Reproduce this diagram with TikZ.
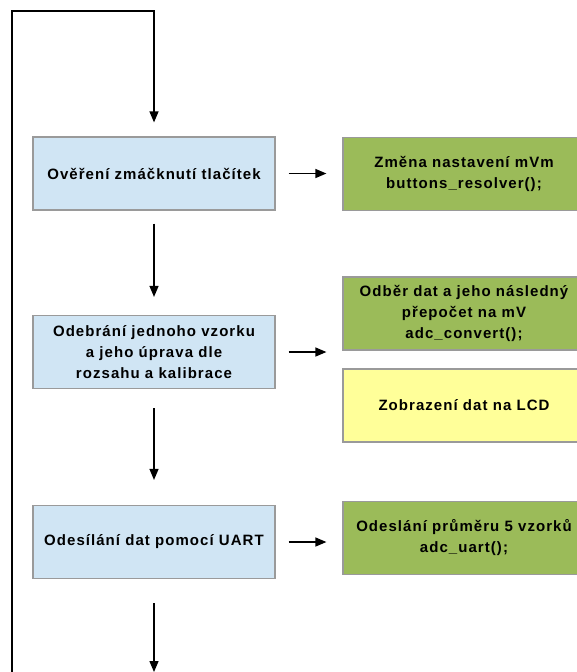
\documentclass[tikz,border=0pt]{standalone}
\usepackage{fontspec}
\setmainfont{Liberation Sans}[LetterSpace=7]
\usetikzlibrary{arrows.meta}

\definecolor{taskblue}{HTML}{D0E5F4}
\definecolor{callgreen}{HTML}{9BBB59}
\definecolor{lcdyellow}{HTML}{FFFF99}
\definecolor{boxline}{HTML}{9A9A9A}

\def\L{154}
\def\R{464}

\tikzset{
  box/.style={draw=boxline, line width=1.2pt, minimum width=242pt,
    minimum height=73pt, align=center, inner sep=2pt,
    font=\bfseries\fontsize{15}{21}\selectfont},
  task/.style={box, fill=taskblue},
  call/.style={box, fill=callgreen},
  lcdbox/.style={box, fill=lcdyellow},
  flow/.style={-{Triangle[length=11pt,width=9pt]}, line width=1.3pt}
}

\begin{document}
\begin{tikzpicture}[x=1pt, y=-1pt]
    \useasboundingbox (0,0) rectangle (577,672);
    \clip (0,0) rectangle (577,672);

    \node[task] (B1) at (\L,173.5) {Ověření zmáčknutí tlačítek};
    \node[task] (B2) at (\L,352)   {Odebrání jednoho vzorku\\a jeho úprava dle\\rozsahu a kalibrace};
    \node[task] (B3) at (\L,542)   {Odesílání dat pomocí UART};

    \node[call]   (G1) at (\R,174)   {Změna nastavení mVm\\buttons\_resolver();};
    \node[call]   (G2) at (\R,313.5) {Odběr dat a jeho následný\\přepočet na mV\\adc\_convert();};
    \node[lcdbox] (Y2) at (\R,405.5) {Zobrazení dat na LCD};
    \node[call]   (G3) at (\R,538)   {Odeslání průměru 5 vzorků\\adc\_uart();};

    \coordinate (loopA) at (12,672);
    \coordinate (loopB) at (\L,11);
    \coordinate (down)  at (\L,672);

    % loop back to the top
    \draw[flow, shorten >=14pt] (loopA) |- (loopB) -- (B1.north);

    \draw[flow, shorten <=13pt, shorten >=18pt] (B1) -- (B2);
    \draw[flow, shorten <=19pt, shorten >=25pt] (B2) -- (B3);
    \draw[flow, shorten <=24pt] (B3) -- (down);

    \draw[flow, shorten <=13pt, shorten >=16pt] (B1.east) -- (B1.east -| G1.west);
    \draw[flow, shorten <=13pt, shorten >=16pt] (B2.east) -- (B2.east -| G2.west);
    \draw[flow, shorten <=13pt, shorten >=16pt] (B3.east) -- (B3.east -| G3.west);
\end{tikzpicture}
\end{document}
